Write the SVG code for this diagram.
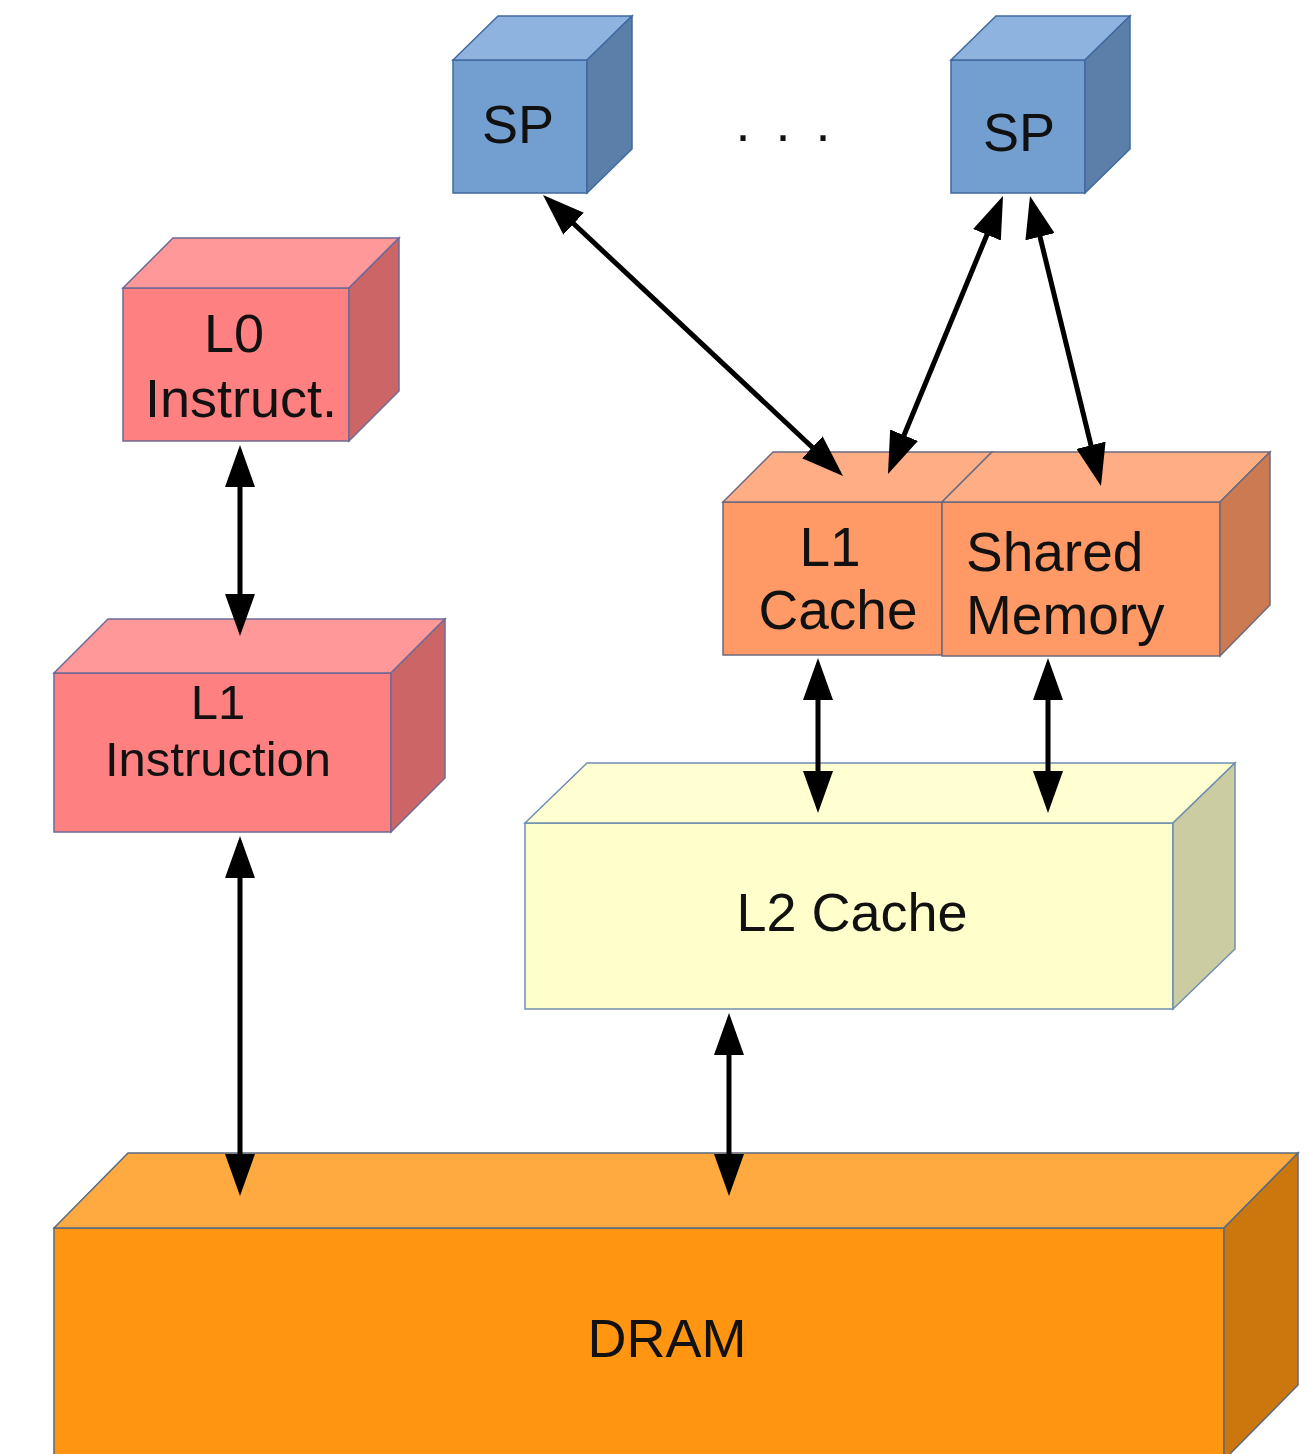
<svg xmlns="http://www.w3.org/2000/svg" width="1307" height="1454" viewBox="0 0 1307 1454">
<style>
  .t{font-family:"Liberation Sans",Arial,sans-serif;fill:#111;}
  .sp .f{fill:#729fcf}.sp .tp{fill:#8fb3df}.sp .sd{fill:#5b7fa8}.sp *{stroke:#3f6aa0;stroke-width:1.5}
  .red .f{fill:#ff8080}.red .tp{fill:#ff9999}.red .sd{fill:#cc6666}.red *{stroke:#6e6a96;stroke-width:1.5}
  .or .f{fill:#ff9966}.or .tp{fill:#ffad85}.or .sd{fill:#cc7a52}.or *{stroke:#6a6a80;stroke-width:1.5}
  .yl .f{fill:#ffffcc}.yl .tp{fill:#ffffd2}.yl .sd{fill:#cccca3}.yl *{stroke:#6f8fb0;stroke-width:1.5}
  .dr .f{fill:#ff9510}.dr .tp{fill:#ffaa40}.dr .sd{fill:#cc770d}.dr *{stroke:#5a6a80;stroke-width:1.5}
  .c line{stroke:#000;stroke-width:5}
</style>
<defs>
  <marker id="ah" viewBox="0 0 42 30" refX="32" refY="15" markerWidth="42" markerHeight="30" markerUnits="userSpaceOnUse" orient="auto-start-reverse">
    <path d="M0,0 L42,15 L0,30 Z" fill="#000"/>
  </marker>
</defs>
<rect width="1307" height="1454" fill="#fff"/>

<g id="dram" class="dr">
  <rect class="f" x="54" y="1228" width="1170" height="240"/>
  <polygon class="tp" points="54,1228 128,1153 1298,1153 1224,1228"/>
  <polygon class="sd" points="1224,1228 1298,1153 1298,1385 1224,1460"/>
  <text class="t" x="667" y="1357" font-size="54" text-anchor="middle" style="stroke:none">DRAM</text>
</g>

<g id="l2" class="yl">
  <rect class="f" x="525" y="823" width="648" height="186"/>
  <polygon class="tp" points="525,823 587,763 1235,763 1173,823"/>
  <polygon class="sd" points="1173,823 1235,763 1235,949 1173,1009"/>
  <text class="t" x="852" y="931" font-size="54" text-anchor="middle" style="stroke:none">L2 Cache</text>
</g>

<g id="l1i" class="red">
  <rect class="f" x="54" y="673" width="337" height="159"/>
  <polygon class="tp" points="54,673 108,619 445,619 391,673"/>
  <polygon class="sd" points="391,673 445,619 445,778 391,832"/>
  <text class="t" x="218" y="719" font-size="49" text-anchor="middle" style="stroke:none">L1</text>
  <text class="t" x="218" y="776" font-size="49" text-anchor="middle" style="stroke:none">Instruction</text>
</g>

<g id="l0" class="red">
  <rect class="f" x="123" y="288" width="226" height="153"/>
  <polygon class="tp" points="123,288 173,238 399,238 349,288"/>
  <polygon class="sd" points="349,288 399,238 399,391 349,441"/>
  <text class="t" x="234" y="352" font-size="54" text-anchor="middle" style="stroke:none">L0</text>
  <text class="t" x="241" y="417" font-size="54" text-anchor="middle" style="stroke:none">Instruct.</text>
</g>

<g id="l1c" class="or">
  <rect class="f" x="723" y="502" width="219" height="153"/>
  <polygon class="tp" points="723,502 773,452 992,452 942,502"/>
  <text class="t" x="830" y="566" font-size="55" text-anchor="middle" style="stroke:none">L1</text>
  <text class="t" x="838" y="629" font-size="55" text-anchor="middle" style="stroke:none">Cache</text>
</g>

<g id="smem" class="or">
  <rect class="f" x="942" y="502" width="278" height="154"/>
  <polygon class="tp" points="942,502 992,452 1270,452 1220,502"/>
  <polygon class="sd" points="1220,502 1270,452 1270,605 1220,656"/>
  <text class="t" x="966" y="571" font-size="55" style="stroke:none">Shared</text>
  <text class="t" x="966" y="634" font-size="55" style="stroke:none">Memory</text>
</g>

<g id="sp1" class="sp">
  <rect class="f" x="453" y="60" width="134" height="133"/>
  <polygon class="tp" points="453,60 498,16 632,16 587,60"/>
  <polygon class="sd" points="587,60 632,16 632,149 587,193"/>
  <text class="t" x="518" y="143" font-size="54" text-anchor="middle" style="stroke:none">SP</text>
</g>

<g id="sp2" class="sp">
  <rect class="f" x="951" y="60" width="134" height="133"/>
  <polygon class="tp" points="951,60 996,16 1130,16 1085,60"/>
  <polygon class="sd" points="1085,60 1130,16 1130,149 1085,193"/>
  <text class="t" x="1019" y="151" font-size="54" text-anchor="middle" style="stroke:none">SP</text>
</g>

<g id="dots">
  <text class="t" x="783" y="141" font-size="54" text-anchor="middle" word-spacing="10">. . .</text>
</g>

<g id="connectors" class="c">
  <line x1="240" y1="455" x2="240" y2="626" marker-start="url(#ah)" marker-end="url(#ah)"/>
  <line x1="240" y1="846" x2="240" y2="1186" marker-start="url(#ah)" marker-end="url(#ah)"/>
  <line x1="729" y1="1023" x2="729" y2="1186" marker-start="url(#ah)" marker-end="url(#ah)"/>
  <line x1="818" y1="668" x2="818" y2="803" marker-start="url(#ah)" marker-end="url(#ah)"/>
  <line x1="1048" y1="668" x2="1048" y2="803" marker-start="url(#ah)" marker-end="url(#ah)"/>
  <line x1="550.3" y1="201.8" x2="835.7" y2="469.2" marker-start="url(#ah)" marker-end="url(#ah)"/>
  <line x1="999.2" y1="205.2" x2="891.8" y2="464.8" marker-start="url(#ah)" marker-end="url(#ah)"/>
  <line x1="1032.4" y1="205.7" x2="1098.6" y2="476.3" marker-start="url(#ah)" marker-end="url(#ah)"/>
</g>
</svg>
